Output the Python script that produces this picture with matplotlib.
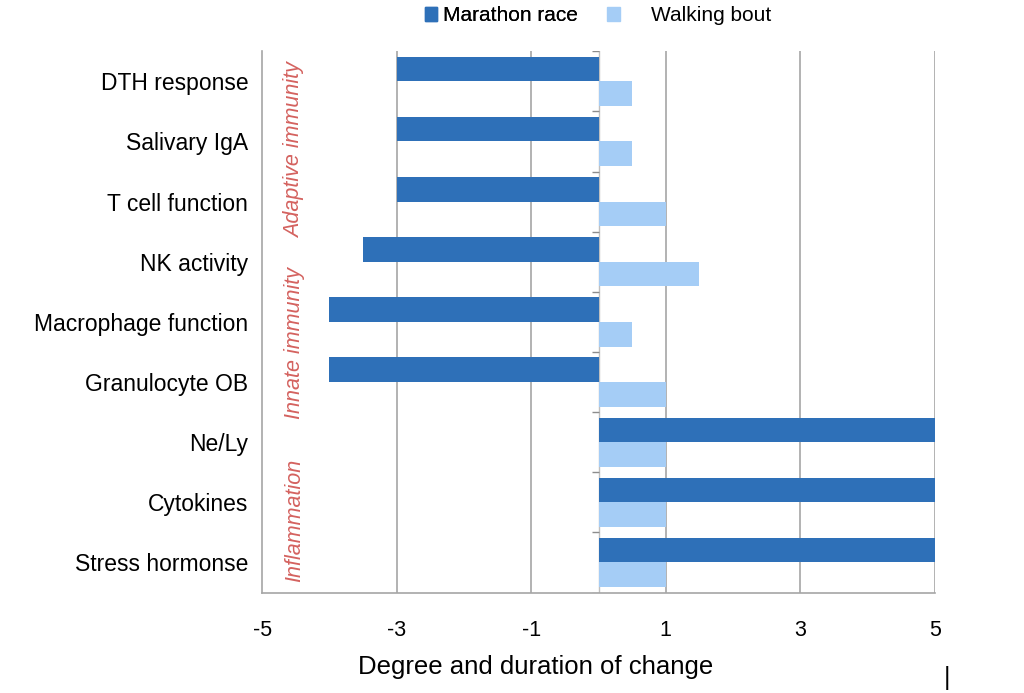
import numpy as np
import matplotlib
matplotlib.use("Agg")
import matplotlib.pyplot as plt
from matplotlib.patches import Patch

plt.rcParams['font.family'] = ['Liberation Sans', 'DejaVu Sans']

categories = ['DTH response', 'Salivary IgA', 'T cell function', 'NK activity',
              'Macrophage function', 'Granulocyte OB', 'Ne/Ly', 'Cytokines',
              'Stress hormonse']
marathon = [-3, -3, -3, -3.5, -4, -4, 5, 5, 5]
walking = [0.5, 0.5, 1, 1.5, 0.5, 1, 1, 1, 1]
series_names = ['Marathon race', 'Walking bout']
groups = ['Adaptive immunity', 'Innate immunity', 'Inflammation']
x_ticks = [-5, -3, -1, 1, 3, 5]

dark = '#2E70B8'
light = '#A5CDF6'
grid_col = '#A6A6A6'
red = '#D4625F'

fig = plt.figure(figsize=(10.24, 6.93), dpi=100)
ax = fig.add_axes([0.256, 0.145, 0.657, 0.781])

y = np.arange(len(categories))
h = 0.41
ax.barh(y - h / 2, marathon, height=h, color=dark, zorder=3)
ax.barh(y + h / 2, walking, height=h, color=light, zorder=3)

ax.set_xlim(-5, 5)
ax.set_ylim(len(categories) - 0.5, -0.5)

# gridlines
for xt in x_ticks[1:]:
    ax.axvline(xt, color=grid_col, lw=1.2, zorder=1)

# category axis at zero with boundary ticks
ax.axvline(0, color='#BFBFBF', lw=1.0, zorder=2)
for b in np.arange(len(categories) + 1) - 0.5:
    ax.plot([-0.1, 0], [b, b], color='#8C8C8C', lw=1.0, zorder=2,
            solid_capstyle='butt')

ax.set_xticks(x_ticks)
ax.set_xticklabels([str(t) for t in x_ticks], fontsize=15.5)
ax.set_yticks(y)
ax.set_yticklabels(categories, fontsize=16.5)
ax.tick_params(axis='y', length=0, pad=10)
ax.tick_params(axis='x', length=0, pad=20)

for side in ['top', 'right']:
    ax.spines[side].set_visible(False)
for side in ['left', 'bottom']:
    ax.spines[side].set_color(grid_col)
    ax.spines[side].set_linewidth(1.2)

# the original title of the axis sits left of centre
ax.set_xlabel('Degree and duration of change', fontsize=18.5, labelpad=12)
ax.xaxis.set_label_coords(0.406, -0.115)

# group labels
group_pos = [1.15, 4.35, 7.3]
for g, gy in zip(groups, group_pos):
    ax.text(0.048, gy, g, transform=ax.get_yaxis_transform(), rotation=90,
            ha='center', va='center', color=red, fontsize=15.5, style='italic')

# legend: two pieces, the second has a wider gap like the original
leg_kw = dict(loc='center left', frameon=False, fontsize=15, handlelength=0.6,
              handleheight=0.6, borderpad=0, borderaxespad=0)
leg1 = fig.legend([Patch(color=dark)], series_names[:1],
                  bbox_to_anchor=(0.415, 0.977), handletextpad=0.25, **leg_kw)
fig.add_artist(leg1)
fig.legend([Patch(color=light)], series_names[1:],
           bbox_to_anchor=(0.593, 0.977), handletextpad=1.5, **leg_kw)

fig.text(0.925, 0.012, '|', fontsize=18, color='black', ha='center')

fig.savefig('out.png', dpi=100)
